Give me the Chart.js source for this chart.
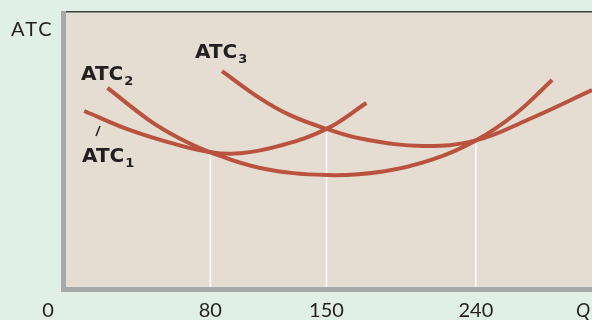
<!DOCTYPE html>
<html>
<head>
<meta charset="utf-8">
<script src="https://cdn.jsdelivr.net/npm/chart.js@4/dist/chart.umd.min.js"></script>
<style>
  html, body { margin: 0; padding: 0; background: #e1f0e6; }
  #wrap { width: 592px; height: 320px; position: relative; }
</style>
</head>
<body>
<div id="wrap"><canvas id="atcChart"></canvas></div>
<script>
// quantities where the curves meet, and their labels
const qTicks = [80, 150, 240];
const tickLabels = ['80', '150', '240'];
const dropHeights = [49.0, 57.5, 53.3];

// ATC curves (Q, cost)
const atc1Q = [4, 30, 55, 80, 98, 122, 150, 174];
const atc1Cost = [64.0, 57.4, 52.6, 49.0, 48.6, 51.4, 57.5, 66.9];

const atc2Q = [18, 43, 61, 80, 110, 150, 184, 214, 240, 264, 286];
const atc2Cost = [72.4, 60.7, 54.2, 49.0, 43.3, 40.7, 42.0, 46.4, 53.3, 63.0, 75.3];

const atc3Q = [87, 110, 128, 150, 172, 208, 240, 272, 310];
const atc3Cost = [78.5, 68.6, 62.5, 57.5, 53.8, 51.3, 53.3, 61.0, 71.6];

const curveColor = '#b9523f';
const toPoints = (xs, ys) => xs.map((x, i) => ({ x: x, y: ys[i] }));

const curve = (label, xs, ys) => ({
  label: label,
  data: toPoints(xs, ys),
  borderColor: curveColor,
  borderWidth: 4,
  pointRadius: 0,
  tension: 0.4,
  fill: false,
  order: 1
});

const dropLines = qTicks.map((q, i) => ({
  label: 'drop' + q,
  data: [{ x: q, y: dropHeights[i] }, { x: q, y: 0 }],
  borderColor: '#ffffff',
  borderWidth: 1.5,
  pointRadius: 0,
  order: 2
}));

const panelPlugin = {
  id: 'panel',
  beforeDraw(chart) {
    const { ctx, chartArea: a } = chart;
    ctx.save();
    ctx.fillStyle = '#e5ddd2';
    ctx.fillRect(a.left, a.top, a.right - a.left, a.bottom - a.top);
    ctx.restore();
  },
  afterDraw(chart) {
    const { ctx, chartArea: a } = chart;
    ctx.save();
    // axes
    ctx.fillStyle = '#a6a8aa';
    ctx.fillRect(a.left - 5, a.top - 1, 5, a.bottom - a.top + 6);
    ctx.fillRect(a.left - 5, a.bottom, a.right - a.left + 5, 5);
    ctx.fillStyle = '#3d403d';
    ctx.fillRect(a.left, a.top - 1, a.right - a.left, 1.5);

    ctx.fillStyle = '#231f20';
    ctx.textBaseline = 'alphabetic';
    ctx.textAlign = 'left';
    ctx.font = '20px Lato';
    ctx.letterSpacing = '2px';
    ctx.fillText('ATC', 11, 36);
    ctx.letterSpacing = '0px';
    ctx.textAlign = 'center';
    ctx.fillText('0', a.left - 18, 317);
    ctx.font = 'italic 19px Lato';
    ctx.fillText('Q', 583, 317);

    const label = (sub, x, y) => {
      ctx.textAlign = 'left';
      ctx.font = 'bold 20px "DejaVu Sans"';
      ctx.fillText('ATC', x, y);
      const w = ctx.measureText('ATC').width;
      ctx.font = 'bold 13px "DejaVu Sans"';
      ctx.fillText(sub, x + w + 1, y + 5);
    };
    label('2', 81, 80);
    label('3', 195, 58);
    label('1', 82, 162);

    ctx.strokeStyle = '#231f20';
    ctx.lineWidth = 1.5;
    ctx.beginPath();
    ctx.moveTo(96, 136);
    ctx.lineTo(100, 126);
    ctx.stroke();
    ctx.restore();
  }
};

new Chart(document.getElementById('atcChart'), {
  type: 'line',
  data: {
    datasets: [
      curve('ATC1', atc1Q, atc1Cost),
      curve('ATC2', atc2Q, atc2Cost),
      curve('ATC3', atc3Q, atc3Cost),
      ...dropLines
    ]
  },
  options: {
    responsive: true,
    maintainAspectRatio: false,
    animation: false,
    layout: { padding: { left: 66, top: 12, right: 0, bottom: 0 } },
    plugins: { legend: { display: false }, tooltip: { enabled: false } },
    scales: {
      x: {
        type: 'linear',
        min: -7,
        max: 310,
        grid: { display: false, drawTicks: false },
        border: { display: false },
        afterBuildTicks: scale => { scale.ticks = qTicks.map(v => ({ value: v })); },
        afterFit: scale => { scale.height = 33; },
        ticks: {
          padding: 12,
          color: '#231f20',
          font: { family: 'Lato', size: 20 },
          callback: (value) => tickLabels[qTicks.indexOf(value)]
        }
      },
      y: { display: false, min: 0, max: 100 }
    }
  },
  plugins: [panelPlugin]
});
</script>
</body>
</html>
